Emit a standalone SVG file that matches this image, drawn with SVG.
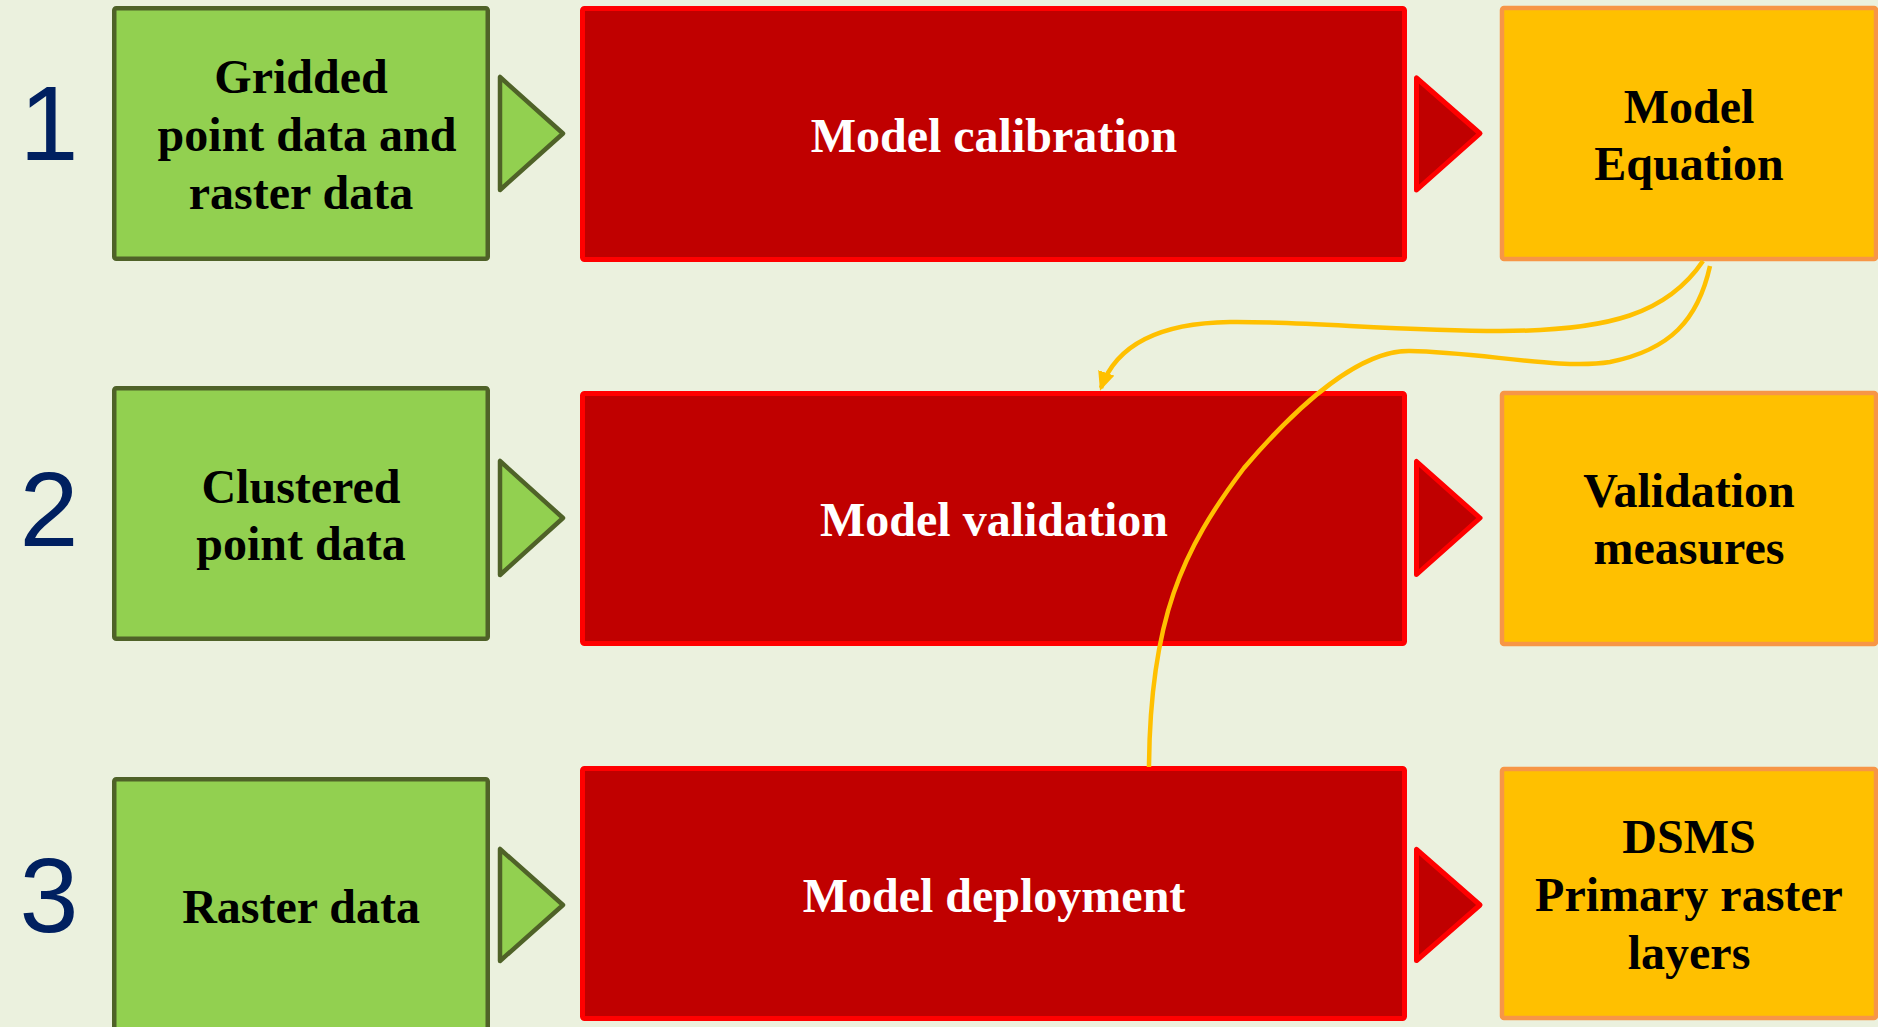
<svg xmlns="http://www.w3.org/2000/svg" width="1878" height="1027" viewBox="0 0 1878 1027">
  <style>
    .input { fill: #92D050; stroke: #4F6228; stroke-width: 4.5; stroke-linejoin: round; }
    .step { fill: #C00000; stroke: #FF0000; stroke-width: 5; stroke-linejoin: round; }
    .output { fill: #FFC000; stroke: #F79646; stroke-width: 4.5; stroke-linejoin: round; }
    .label { font-family: "Liberation Serif", "Times New Roman", serif; font-weight: bold; font-size: 48px; text-anchor: middle; }
    .dark { fill: #000000; }
    .light { fill: #FFFFFF; }
    .num { font-family: "Liberation Sans", Arial, sans-serif; font-size: 106px; fill: #002060; text-anchor: middle; }
    .link { fill: none; stroke: #FFC000; stroke-width: 4.5; }
  </style>
  <defs>
    <marker id="head" markerUnits="userSpaceOnUse" markerWidth="22" markerHeight="20" refX="16" refY="8.5" orient="auto">
      <path d="M0,0 L19,8.5 L0,17 z" fill="#FFC000"/>
    </marker>
  </defs>

  <rect width="1878" height="1027" fill="#EBF1DE"/>

  <!-- row numbers -->
  <g id="row-numbers">
    <text class="num" x="49" y="160">1</text>
    <text class="num" x="49" y="546">2</text>
    <text class="num" x="49" y="932">3</text>
  </g>

  <!-- row 1 -->
  <g id="input-gridded">
    <rect class="input" x="114.25" y="8.25" width="373.5" height="250.5" rx="2"/>
    <text class="label dark" x="301" y="93">Gridded</text>
    <text class="label dark" x="307" y="151">point data and</text>
    <text class="label dark" x="301" y="209">raster data</text>
  </g>
  <g id="arrow-in-1"><polygon class="input" points="500,77 500,190 563,133.5"/></g>
  <g id="step-calibration">
    <rect class="step" x="582.5" y="8.5" width="822" height="251" rx="2"/>
    <text class="label light" x="994" y="152">Model calibration</text>
  </g>
  <g id="arrow-out-1"><polygon class="step" points="1416.5,78 1416.5,190 1480,133.5"/></g>
  <g id="output-equation">
    <rect class="output" x="1502" y="8" width="374" height="251" rx="2"/>
    <text class="label dark" x="1689" y="123">Model</text>
    <text class="label dark" x="1689" y="180">Equation</text>
  </g>

  <!-- row 2 -->
  <g id="input-clustered">
    <rect class="input" x="114.25" y="388.25" width="373.5" height="250.5" rx="2"/>
    <text class="label dark" x="301" y="503">Clustered</text>
    <text class="label dark" x="301" y="560">point data</text>
  </g>
  <g id="arrow-in-2"><polygon class="input" points="500,461 500,575 563,518"/></g>
  <g id="step-validation">
    <rect class="step" x="582.5" y="393.5" width="822" height="250" rx="2"/>
    <text class="label light" x="994" y="536">Model validation</text>
  </g>
  <g id="arrow-out-2"><polygon class="step" points="1416.5,461.5 1416.5,574.5 1480,518"/></g>
  <g id="output-measures">
    <rect class="output" x="1502" y="393" width="374" height="251" rx="2"/>
    <text class="label dark" x="1689" y="507">Validation</text>
    <text class="label dark" x="1689" y="564">measures</text>
  </g>

  <!-- row 3 -->
  <g id="input-raster">
    <rect class="input" x="114.25" y="779.25" width="373.5" height="250.5" rx="2"/>
    <text class="label dark" x="301" y="923">Raster data</text>
  </g>
  <g id="arrow-in-3"><polygon class="input" points="500,849 500,961 563,905"/></g>
  <g id="step-deployment">
    <rect class="step" x="582.5" y="768.5" width="822" height="250" rx="2"/>
    <text class="label light" x="994" y="912">Model deployment</text>
  </g>
  <g id="arrow-out-3"><polygon class="step" points="1416.5,849.5 1416.5,960.5 1480,905"/></g>
  <g id="output-layers">
    <rect class="output" x="1502" y="769" width="374" height="249" rx="2"/>
    <text class="label dark" x="1689" y="853">DSMS</text>
    <text class="label dark" x="1689" y="911">Primary raster</text>
    <text class="label dark" x="1689" y="969">layers</text>
  </g>

  <!-- equation feeds validation and deployment -->
  <g id="connectors">
    <path class="link" d="M1703,261 C1668,313 1610,331 1500,331 C1400,331 1300,321 1230,322 C1160,323 1116,345 1101,388" marker-end="url(#head)"/>
    <path class="link" d="M1710,266 C1698,320 1670,350 1610,362 C1560,370 1480,352 1410,351 C1362,350 1302,400 1244,468 C1182,550 1150,620 1149,767"/>
  </g>
</svg>
